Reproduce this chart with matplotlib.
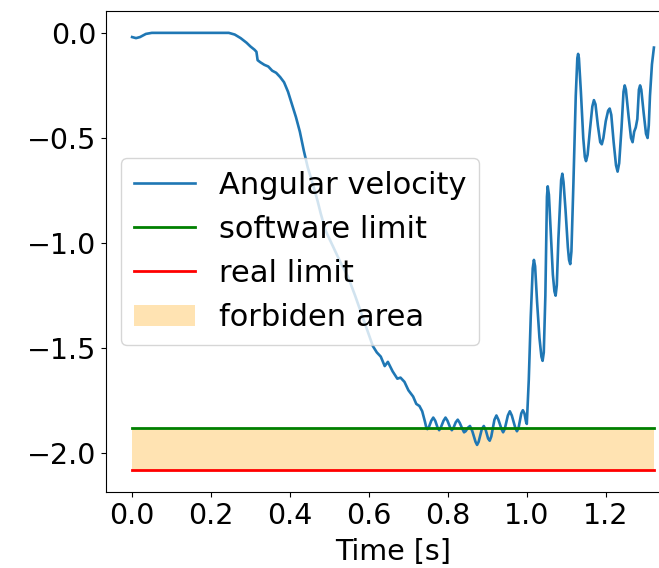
# Angular velocity vs time with software / real limits and forbidden band

import numpy as np
import matplotlib
matplotlib.use("Agg")
import matplotlib.pyplot as plt

# values, in three stretches
# 1) start and descent
descent_t = [0.000, 0.010, 0.020, 0.035, 0.050, 0.100, 0.150, 0.200, 0.245, 0.260,
             0.275, 0.290, 0.300, 0.310, 0.315, 0.318, 0.325, 0.335, 0.345, 0.355,
             0.365, 0.375, 0.385, 0.395, 0.405, 0.415, 0.425, 0.435, 0.445, 0.458,
             0.470, 0.478, 0.490, 0.500, 0.510, 0.530, 0.547, 0.565, 0.580, 0.595,
             0.610, 0.620, 0.630, 0.640, 0.648, 0.660, 0.672, 0.680, 0.690, 0.700,
             0.712, 0.720, 0.728, 0.735]
descent_v = [-0.020, -0.025, -0.020, -0.005, 0.000, 0.000, 0.000, 0.000, 0.000, -0.008,
             -0.025, -0.047, -0.065, -0.080, -0.090, -0.130, -0.140, -0.152, -0.160, -0.180,
             -0.190, -0.210, -0.235, -0.280, -0.340, -0.400, -0.470, -0.560, -0.640, -0.720,
             -0.800, -0.860, -0.940, -0.980, -1.020, -1.100, -1.160, -1.250, -1.330, -1.410,
             -1.490, -1.520, -1.540, -1.585, -1.565, -1.610, -1.645, -1.640, -1.660, -1.700,
             -1.730, -1.765, -1.775, -1.800]
# 2) oscillating around the software limit
limit_t = [0.742, 0.745, 0.748, 0.752, 0.758, 0.763, 0.768, 0.774, 0.778, 0.782,
           0.789, 0.794, 0.799, 0.806, 0.810, 0.814, 0.820, 0.825, 0.830, 0.837,
           0.841, 0.845, 0.851, 0.856, 0.862, 0.870, 0.874, 0.878, 0.886, 0.891,
           0.896, 0.902, 0.906, 0.910, 0.918, 0.923, 0.928, 0.936, 0.940, 0.944,
           0.952, 0.957, 0.962, 0.971, 0.975, 0.979, 0.986, 0.990, 0.994, 0.998,
           1.000]
limit_v = [-1.850, -1.875, -1.885, -1.875, -1.845, -1.830, -1.845, -1.878, -1.890, -1.878,
           -1.845, -1.830, -1.845, -1.878, -1.890, -1.880, -1.852, -1.840, -1.855, -1.885,
           -1.900, -1.895, -1.878, -1.870, -1.895, -1.945, -1.960, -1.945, -1.885, -1.870,
           -1.890, -1.930, -1.940, -1.920, -1.840, -1.820, -1.840, -1.885, -1.900, -1.885,
           -1.820, -1.800, -1.820, -1.880, -1.895, -1.880, -1.810, -1.795, -1.810, -1.850,
           -1.860]
# 3) recovery with large oscillations
recovery_t = [1.005, 1.010, 1.015, 1.018, 1.021, 1.026, 1.032, 1.037, 1.040, 1.043,
              1.047, 1.051, 1.053, 1.056, 1.060, 1.066, 1.070, 1.073, 1.076, 1.080,
              1.087, 1.090, 1.093, 1.098, 1.104, 1.107, 1.110, 1.113, 1.118, 1.124,
              1.128, 1.130, 1.132, 1.137, 1.143, 1.147, 1.150, 1.154, 1.160, 1.166,
              1.170, 1.174, 1.180, 1.186, 1.190, 1.194, 1.200, 1.206, 1.210, 1.214,
              1.220, 1.226, 1.230, 1.234, 1.240, 1.245, 1.248, 1.251, 1.258, 1.264,
              1.268, 1.272, 1.276, 1.280, 1.284, 1.287, 1.290, 1.296, 1.302, 1.306,
              1.309, 1.312, 1.317, 1.322]
recovery_v = [-1.650, -1.350, -1.120, -1.080, -1.110, -1.280, -1.450, -1.540, -1.560, -1.520,
              -1.250, -0.780, -0.730, -0.770, -0.920, -1.150, -1.230, -1.250, -1.200, -0.980,
              -0.700, -0.670, -0.710, -0.840, -1.020, -1.080, -1.100, -1.040, -0.720, -0.300,
              -0.120, -0.100, -0.120, -0.280, -0.500, -0.590, -0.610, -0.580, -0.460, -0.350,
              -0.320, -0.340, -0.440, -0.520, -0.530, -0.500, -0.420, -0.370, -0.360, -0.390,
              -0.520, -0.630, -0.660, -0.620, -0.450, -0.280, -0.250, -0.270, -0.400, -0.500,
              -0.520, -0.470, -0.450, -0.410, -0.270, -0.250, -0.270, -0.380, -0.480, -0.500,
              -0.440, -0.300, -0.150, -0.070]

software_limit = -1.88
real_limit = -2.08

t = np.array(descent_t + limit_t + recovery_t)
omega = np.array(descent_v + limit_v + recovery_v)

tick_fs = 20.5
legend_fs = 22

fig = plt.figure(figsize=(6.59, 5.68), dpi=100)
# axes run past the right edge of the picture, like the cropped reference
ax = fig.add_axes([106/659, 76/568, 574/659, 481/568])

ax.plot(t, omega, color="tab:blue", lw=1.9, solid_joinstyle="round",
        label="Angular velocity")
ax.plot([t[0], t[-1]], [software_limit, software_limit], color="g", lw=2,
        label="software limit")
ax.plot([t[0], t[-1]], [real_limit, real_limit], color="r", lw=2,
        label="real limit")
ax.fill_between([t[0], t[-1]], real_limit, software_limit, color="orange",
                alpha=0.3, lw=0, label="forbiden area")

ax.set_xticks([0.0, 0.2, 0.4, 0.6, 0.8, 1.0, 1.2])
ax.set_yticks([0.0, -0.5, -1.0, -1.5, -2.0])
ax.tick_params(labelsize=tick_fs)
ax.set_xlabel("Time [s]", fontsize=tick_fs, labelpad=6)
ax.legend(loc="center left", fontsize=legend_fs)

fig.savefig("out.png", dpi=100)
